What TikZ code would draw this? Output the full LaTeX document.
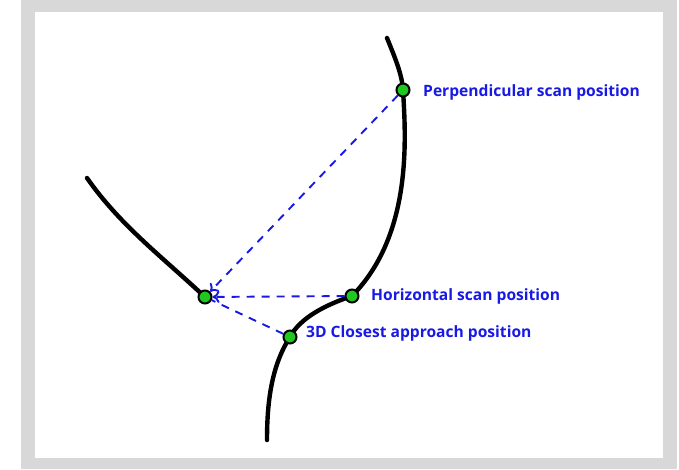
\documentclass[tikz,border=0pt]{standalone}
\usepackage{fontspec}
\setmainfont{Open Sans}
\usetikzlibrary{arrows.meta}
\definecolor{frame}{RGB}{216,216,216}
\definecolor{lblue}{RGB}{25,25,230}
\definecolor{dotgreen}{RGB}{30,200,30}
\tikzset{
  curve/.style={line width=4.4pt, line cap=round, black},
  scanline/.style={lblue, line width=1.9pt, dash pattern=on 8pt off 7pt},
  pt/.style={circle, draw=black, line width=2pt, fill=dotgreen, minimum size=13pt, inner sep=0pt},
  lbl/.style={lblue, font=\fontsize{15.6}{17}\selectfont\bfseries, anchor=west, inner sep=0pt}
}
\begin{document}
\begin{tikzpicture}[x=1pt,y=-1pt]
\useasboundingbox (0,0) rectangle (679,469);
\fill[frame] (21,0) rectangle (677,469);
\fill[white] (35,12) rectangle (663,458);
% curves
\draw[curve] (387,38) .. controls (396,60) and (402,75) .. (403,90)
  .. controls (406,140) and (412,235) .. (352,296)
  .. controls (325,305) and (300,318) .. (290,337)
  .. controls (272,365) and (267,400) .. (267,440);
\draw[curve] (87,178) .. controls (120,225) and (160,255) .. (205,297);
% points
\node[pt] (L) at (205,297) {};
\node[pt] (P) at (403,90) {};
\node[pt] (H) at (352,296) {};
\node[pt] (C) at (290,337) {};
% dashed lines
\draw[scanline, -{To[length=7pt,width=12pt]}] (P) -- (L);
\draw[scanline, -{To[length=7pt,width=12pt]}] (H) -- (L);
\draw[scanline] (C) -- (L);
% labels
\node[lbl] (tP) at (423,92) {Perpendicular scan position};
\node[lbl] (tH) at (371,296) {Horizontal scan position};
\node[lbl] (tC) at (306,333) {3D Closest approach position};
\end{tikzpicture}
\end{document}
